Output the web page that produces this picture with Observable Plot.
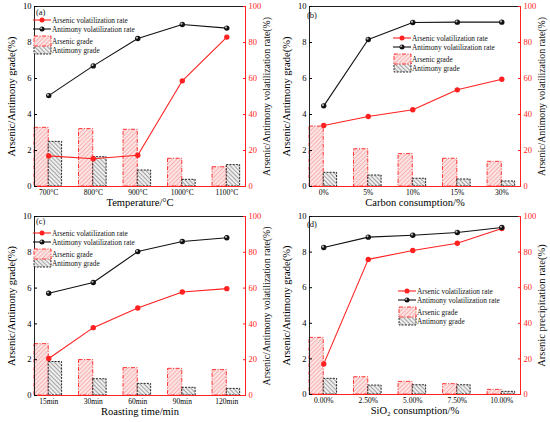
<!DOCTYPE html>
<html><head><meta charset="utf-8">
<script src="https://cdn.jsdelivr.net/npm/d3@7"></script>
<script src="https://cdn.jsdelivr.net/npm/@observablehq/plot@0.6"></script>
<style>
body{margin:0;background:#fff;}
#wrap{position:relative;width:550px;height:422px;overflow:hidden;}
.panel{position:absolute;width:275px;height:211px;}
</style></head><body><div id="wrap"></div>
<script>
// ---- data ----
const tempCats = ["700°C","800°C","900°C","1000°C","1100°C"];
const tempAsGrade = [3.26, 3.19, 3.15, 1.54, 1.07];
const tempSbGrade = [2.48, 1.63, 0.89, 0.37, 1.19];
const tempAsRate = [17.0, 15.4, 17.4, 58.7, 83.0];
const tempSbRate = [50.5, 67.0, 82.2, 90.0, 88.0];

const carbonCats = ["0%","5%","10%","15%","30%"];
const carbonAsGrade = [3.33, 2.07, 1.80, 1.54, 1.37];
const carbonSbGrade = [0.76, 0.61, 0.43, 0.39, 0.28];
const carbonAsRate = [33.9, 38.9, 42.6, 53.7, 59.6];
const carbonSbRate = [44.8, 81.7, 91.1, 91.3, 91.3];

const timeCats = ["15min","30min","60min","90min","120min"];
const timeAsGrade = [2.87, 1.98, 1.53, 1.49, 1.42];
const timeSbGrade = [1.87, 0.91, 0.65, 0.43, 0.37];
const timeAsRate = [20.7, 37.9, 48.9, 57.8, 59.7];
const timeSbRate = [57.1, 63.1, 80.4, 86.0, 88.1];

const sioCats = ["0.00%","2.50%","5.00%","7.50%","10.00%"];
const sioAsGrade = [3.18, 0.97, 0.71, 0.58, 0.26];
const sioSbGrade = [0.88, 0.50, 0.52, 0.52, 0.15];
const sioAsRate = [17.2, 75.9, 80.9, 85.0, 93.3];
const sioSbRate = [82.6, 88.4, 89.5, 91.0, 93.8];

const leftTicks = [0, 2, 4, 6, 8, 10];
const RED = "#ff2020";
const FONT = "Liberation Serif";

function panel(cfg) {
  const rows = cfg.cats.map((c, i) => ({i, cat: c, asG: cfg.asGrade[i], sbG: cfg.sbGrade[i], asR: cfg.asRate[i], sbR: cfg.sbRate[i]}));
  const x0 = -0.32, x1 = 4.42;
  const id = cfg.id;
  const svg = Plot.plot({
    width: 275, height: 211,
    marginLeft: 34, marginRight: 30, marginTop: cfg.mt, marginBottom: cfg.mb,
    style: {fontFamily: FONT, background: "transparent", overflow: "visible", color: "black"},
    x: {domain: [x0, x1]},
    y: {domain: [0, 10]},
    marks: [
      Plot.rect(rows, {x1: d => d.i - 0.32, x2: d => d.i, y1: () => 0, y2: "asG",
        fill: `url(#hr-${id})`, stroke: RED, strokeWidth: 0.9, strokeDasharray: "4,1.5,1,1.5"}),
      Plot.rect(rows, {x1: d => d.i, x2: d => d.i + 0.30, y1: () => 0, y2: "sbG",
        fill: `url(#hb-${id})`, stroke: "#111", strokeWidth: 0.9, strokeDasharray: "2,1.2"}),
      Plot.ruleY([0], {stroke: RED, strokeWidth: 1}),
      Plot.ruleY([10], {stroke: "#222", strokeWidth: 1}),
      Plot.ruleX([x0], {stroke: "#222", strokeWidth: 1}),
      Plot.ruleX([x1], {stroke: RED, strokeWidth: 1}),
      Plot.line(rows, {x: "i", y: d => d.asR / 10, stroke: RED, strokeWidth: 1.1}),
      Plot.dot(rows, {x: "i", y: d => d.asR / 10, r: 2.7, fill: RED}),
      Plot.line(rows, {x: "i", y: d => d.sbR / 10, stroke: "#111", strokeWidth: 1.1}),
      Plot.dot(rows, {x: "i", y: d => d.sbR / 10, r: 2.7, fill: "#111"}),
      Plot.dot(rows, {x: "i", y: d => d.sbR / 10, r: 1.1, fill: "#bbb", dx: -0.8, dy: -0.8}),
      Plot.axisY({ticks: leftTicks, tickSize: -3, tickPadding: 6, fontSize: 8.5, label: null}),
      Plot.axisY({ticks: [], tickSize: 0, fontSize: 10.5, label: "Arsenic/Antimony grade(%)", labelAnchor: "center", labelOffset: 27, labelArrow: "none"}),
      Plot.axisY({anchor: "right", ticks: leftTicks, tickFormat: d => d * 10, tickSize: -3, tickPadding: 6, fontSize: 8.5, color: RED, label: null}),
      Plot.axisY({anchor: "right", ticks: [], tickSize: 0, fontSize: cfg.rfs, label: cfg.rightTitle, labelAnchor: "center", labelOffset: 24, labelArrow: "none", color: "#111"}),
      Plot.axisX({ticks: [0,1,2,3,4], tickFormat: i => cfg.cats[i], tickSize: 0, tickPadding: 3, fontSize: 7.5, label: null}),
      Plot.axisX({ticks: [], tickSize: 0, fontSize: 10.5, label: cfg.xTitle, labelAnchor: "center", labelOffset: 19, labelArrow: "none"})
    ]
  });
  const s = d3.select(svg);
  const defs = s.insert("defs", ":first-child");
  const pr = defs.append("pattern").attr("id", `hr-${id}`).attr("patternUnits", "userSpaceOnUse")
    .attr("width", 3).attr("height", 3).attr("patternTransform", "rotate(45)");
  pr.append("rect").attr("width", 3).attr("height", 3).attr("fill", "#fde4e4");
  pr.append("line").attr("x1", 0).attr("y1", 0).attr("x2", 0).attr("y2", 3).attr("stroke", "#f48888").attr("stroke-width", 1.1);
  const pb = defs.append("pattern").attr("id", `hb-${id}`).attr("patternUnits", "userSpaceOnUse")
    .attr("width", 3).attr("height", 3).attr("patternTransform", "rotate(-45)");
  pb.append("rect").attr("width", 3).attr("height", 3).attr("fill", "#eeeeee");
  pb.append("line").attr("x1", 0).attr("y1", 0).attr("x2", 0).attr("y2", 3).attr("stroke", "#666").attr("stroke-width", 1.1);

  // panel letter
  s.append("text").attr("x", cfg.letterX).attr("y", cfg.letterY).attr("text-anchor", "start")
    .attr("font-family", FONT).attr("font-size", 8.5).attr("fill", "#111").text(cfg.letter);

  // legend
  const lx = cfg.lx, ly = cfg.ly;
  const g = s.append("g").attr("font-family", FONT).attr("font-size", 7.3).attr("fill", "#111").attr("text-anchor", "start");
  g.append("line").attr("x1", lx).attr("x2", lx + 18).attr("y1", ly).attr("y2", ly).attr("stroke", RED).attr("stroke-width", 1.1);
  g.append("circle").attr("cx", lx + 9).attr("cy", ly).attr("r", 2.5).attr("fill", RED);
  g.append("text").attr("x", lx + 19).attr("y", ly).attr("dy", "0.35em").text("Arsenic volatilization rate");
  g.append("line").attr("x1", lx).attr("x2", lx + 18).attr("y1", ly + 9).attr("y2", ly + 9).attr("stroke", "#111").attr("stroke-width", 1.1);
  g.append("circle").attr("cx", lx + 9).attr("cy", ly + 9).attr("r", 2.5).attr("fill", "#111");
  g.append("circle").attr("cx", lx + 8.2).attr("cy", ly + 8.2).attr("r", 1).attr("fill", "#bbb");
  g.append("text").attr("x", lx + 19).attr("y", ly + 9).attr("dy", "0.35em").text("Antimony volatilization rate");
  g.append("rect").attr("x", lx + 1).attr("y", ly + 25).attr("width", 17).attr("height", 9)
    .attr("fill", `url(#hb-${id})`).attr("stroke", "#111").attr("stroke-width", 0.9).attr("stroke-dasharray", "2,1.2");
  g.append("rect").attr("x", lx + 1).attr("y", ly + 16).attr("width", 17).attr("height", 10)
    .attr("fill", `url(#hr-${id})`).attr("stroke", RED).attr("stroke-width", 0.9).attr("stroke-dasharray", "4,1.5,1,1.5");
  g.append("text").attr("x", lx + 19).attr("y", ly + 21).attr("dy", "0.35em").text("Arsenic grade");
  g.append("text").attr("x", lx + 19).attr("y", ly + 30.5).attr("dy", "0.35em").text("Antimony grade");

  const div = document.createElement("div");
  div.className = "panel";
  div.style.left = cfg.left + "px";
  div.style.top = cfg.top + "px";
  div.appendChild(svg);
  document.getElementById("wrap").appendChild(div);
}

const volTitle = "Arsenic/Antimony volatilization rate(%)";
panel({id: "a", left: 0, top: 0, mt: 6, mb: 25, cats: tempCats, asGrade: tempAsGrade, sbGrade: tempSbGrade, asRate: tempAsRate, sbRate: tempSbRate,
  xTitle: "Temperature/°C", rightTitle: volTitle, rfs: 9.8, letter: "(a)", letterX: 36, letterY: 15, lx: 33, ly: 20});
panel({id: "b", left: 275, top: 0, mt: 6, mb: 25, cats: carbonCats, asGrade: carbonAsGrade, sbGrade: carbonSbGrade, asRate: carbonAsRate, sbRate: carbonSbRate,
  xTitle: "Carbon consumption/%", rightTitle: volTitle, rfs: 9.8, letter: "(b)", letterX: 32, letterY: 18, lx: 118, ly: 38});
panel({id: "c", left: 0, top: 211, mt: 5, mb: 27, cats: timeCats, asGrade: timeAsGrade, sbGrade: timeSbGrade, asRate: timeAsRate, sbRate: timeSbRate,
  xTitle: "Roasting time/min", rightTitle: volTitle, rfs: 9.8, letter: "(c)", letterX: 36, letterY: 13, lx: 33, ly: 22});
panel({id: "d", left: 275, top: 211, mt: 5, mb: 28, cats: sioCats, asGrade: sioAsGrade, sbGrade: sioSbGrade, asRate: sioAsRate, sbRate: sioSbRate,
  xTitle: "SiO₂ consumption/%", rightTitle: "Arsenic precipitation rate(%)", rfs: 10.5, letter: "(d)", letterX: 32, letterY: 16, lx: 123, ly: 80});
</script>
</body></html>
